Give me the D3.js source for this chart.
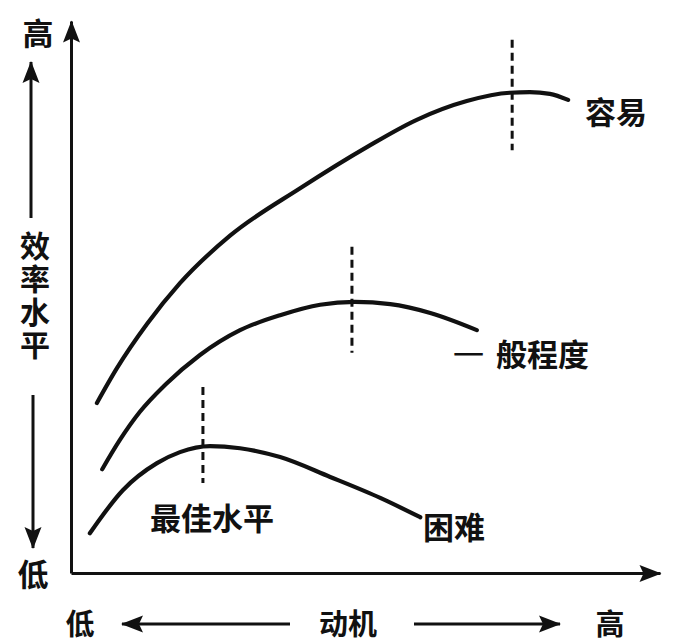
<!DOCTYPE html>
<html>
<head>
<meta charset="utf-8">
<script src="https://cdn.jsdelivr.net/npm/d3@7"></script>
<style>
  body { margin: 0; background: #fff; }
  .text { font-family: 'Noto Sans CJK SC', sans-serif; font-weight: 700; font-size: 31px; fill: #111; }
  .text--vertical { writing-mode: vertical-rl; font-size: 30px; letter-spacing: 3px; }
  .curve { fill: none; stroke: #111; stroke-width: 4.2px; stroke-linecap: round; }
  .optimum { stroke: #111; stroke-width: 3px; stroke-dasharray: 8 5; }
  .axis path { stroke: #111; stroke-width: 3px; }
  .label-arrow { stroke: #111; stroke-width: 3px; }
</style>
</head>
<body>
<svg class="chart" width="700" height="643"></svg>
<script>
// motivation (0-100) / efficiency (0-100)
const easyMotivation = [4.4, 7.8, 12.9, 18.5, 27.0, 38.9, 50.3, 58.7, 67.2, 74.5, 77.9, 81.3, 84.4];
const easyEfficiency = [30.8, 37.1, 45.1, 52.5, 61.1, 69.7, 77.2, 82.1, 85.5, 87.0, 87.1, 86.8, 85.7];

const mediumMotivation = [5.3, 8.3, 11.7, 16.0, 21.9, 28.7, 35.5, 42.3, 48.2, 54.2, 61.0, 68.9];
const mediumEfficiency = [18.8, 24.1, 29.2, 34.1, 39.5, 44.0, 46.7, 48.6, 49.1, 48.7, 47.1, 44.0];

const hardMotivation = [3.2, 8.8, 14.6, 18.5, 23.6, 28.7, 35.5, 44.0, 52.5, 59.3];
const hardEfficiency = [7.2, 15.0, 19.9, 21.9, 23.0, 22.6, 21.0, 17.4, 13.6, 10.1];

// optimum markers: motivation, efficiency from, efficiency to
const optimumMotivation = [74.9, 47.7, 22.4];
const optimumFrom = [76.6, 39.9, 16.3];
const optimumTo = [96.6, 59.1, 33.7];

const curveLabels = ['容易', '一般程度', '困难', '最佳水平'];
const yAxisTitle = '效率水平';
const yAxisEnds = ['高', '低'];
const xAxisLabels = ['低', '动机', '高'];

const toPoints = (xs, ys) => xs.map((x, i) => [x, ys[i]]);

const createArrowMarker = (svg) => {
  svg.append('defs').append('marker')
    .attr('id', 'arrow')
    .attr('markerUnits', 'userSpaceOnUse')
    .attr('viewBox', '-24 -12 26 24')
    .attr('refX', 0)
    .attr('refY', 0)
    .attr('markerWidth', 26)
    .attr('markerHeight', 24)
    .attr('orient', 'auto')
    .append('path')
    .attr('d', 'M1,0 L-21,-8.5 L-17,0 L-21,8.5 Z')
    .attr('fill', '#111');
};

const drawAxes = (svg, xScale, yScale) => {
  const xAxis = d3.axisBottom(xScale).tickValues([]).tickSizeOuter(0);
  const yAxis = d3.axisLeft(yScale).tickValues([]).tickSizeOuter(0);
  const [x0] = xScale.range();
  const [y0] = yScale.range();

  svg.append('g').classed('axis', true)
    .attr('transform', `translate(0, ${y0})`)
    .call(xAxis)
    .select('.domain').attr('marker-end', 'url(#arrow)');

  svg.append('g').classed('axis', true)
    .attr('transform', `translate(${x0}, 0)`)
    .call(yAxis)
    .select('.domain').attr('marker-end', 'url(#arrow)');
};

const drawCurves = (svg, xScale, yScale) => {
  const line = d3.line()
    .x(([x]) => xScale(x))
    .y(([, y]) => yScale(y))
    .curve(d3.curveMonotoneX);

  const series = [
    toPoints(easyMotivation, easyEfficiency),
    toPoints(mediumMotivation, mediumEfficiency),
    toPoints(hardMotivation, hardEfficiency),
  ];

  svg.selectAll('.curve')
    .data(series)
    .enter()
    .append('path')
    .classed('curve', true)
    .attr('d', line);

  svg.selectAll('.optimum')
    .data(optimumMotivation)
    .enter()
    .append('line')
    .classed('optimum', true)
    .attr('x1', d => xScale(d))
    .attr('x2', d => xScale(d))
    .attr('y1', (d, i) => yScale(optimumTo[i]))
    .attr('y2', (d, i) => yScale(optimumFrom[i]));
};

const drawCurveLabels = (svg) => {
  const spots = [
    { x: 585, y: 110 },
    { x: 453, y: 352 },
    { x: 423, y: 525 },
    { x: 150, y: 516 },
  ];

  curveLabels.forEach((label, i) => {
    const text = svg.append('text')
      .classed('text', true)
      .attr('x', spots[i].x)
      .attr('y', spots[i].y)
      .attr('dominant-baseline', 'central');

    if (label.startsWith('一')) {
      text.append('tspan').style('font-weight', 400).text(label[0]);
      text.append('tspan').attr('dx', 12).text(label.slice(1));
    } else {
      text.text(label);
    }
  });
};

const drawAxisLabels = (svg) => {
  svg.append('text')
    .classed('text text--vertical', true)
    .attr('x', 35)
    .attr('y', 297)
    .attr('text-anchor', 'middle')
    .text(yAxisTitle);

  svg.selectAll('.y-end')
    .data(yAxisEnds)
    .enter()
    .append('text')
    .classed('text y-end', true)
    .attr('x', (d, i) => (i === 0 ? 38 : 33))
    .attr('y', (d, i) => (i === 0 ? 31 : 572))
    .attr('text-anchor', 'middle')
    .attr('dominant-baseline', 'central')
    .text(d => d);

  const xSpots = [80, 348, 610];

  svg.selectAll('.x-label')
    .data(xAxisLabels)
    .enter()
    .append('text')
    .classed('text x-label', true)
    .style('font-size', '29px')
    .attr('x', (d, i) => xSpots[i])
    .attr('y', 622)
    .attr('text-anchor', 'middle')
    .attr('dominant-baseline', 'central')
    .text(d => d);

  const arrows = [
    { x1: 31, y1: 218, x2: 31, y2: 62 },
    { x1: 33, y1: 395, x2: 33, y2: 548 },
    { x1: 290, y1: 624, x2: 122, y2: 624 },
    { x1: 414, y1: 624, x2: 560, y2: 624 },
  ];

  svg.selectAll('.label-arrow')
    .data(arrows)
    .enter()
    .append('line')
    .classed('label-arrow', true)
    .attr('x1', d => d.x1)
    .attr('y1', d => d.y1)
    .attr('x2', d => d.x2)
    .attr('y2', d => d.y2)
    .attr('marker-end', 'url(#arrow)');
};

const startApp = () => {
  const svg = d3.select('.chart');
  const xScale = d3.scaleLinear().domain([0, 100]).range([71, 660]);
  const yScale = d3.scaleLinear().domain([0, 100]).range([573, 21]);

  createArrowMarker(svg);
  drawAxes(svg, xScale, yScale);
  drawCurves(svg, xScale, yScale);
  drawCurveLabels(svg);
  drawAxisLabels(svg);
};

window.onload = startApp;
</script>
</body>
</html>
